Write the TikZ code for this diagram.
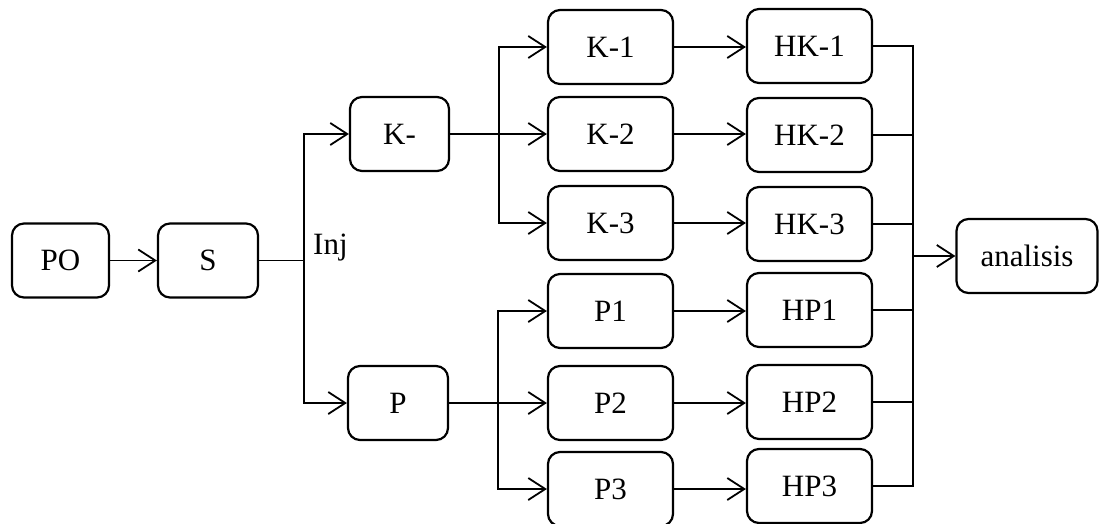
\documentclass[tikz,border=0pt]{standalone}
\usepackage{fontspec}
\setmainfont{Liberation Serif}
\usetikzlibrary{arrows.meta}
\begin{document}
\begin{tikzpicture}[x=1pt,y=-1pt,
  box/.style={draw, line width=2.2pt, rounded corners=12pt, minimum height=74pt,
    inner sep=0pt, font=\fontsize{31}{36}\selectfont},
  conn/.style={line width=1.8pt},
  arr/.style={conn, -{Straight Barb[length=17pt,width=22pt,line width=1.8pt]}}]
\fill[white] (0,0) rectangle (1099,524);
\useasboundingbox (0,0) rectangle (1099,524);
% nodes
\node[box, minimum width=97pt]  (PO) at (60.5,260.5) {PO};
\node[box, minimum width=100pt] (S)  at (208,260.5) {S};
\node[box, minimum width=99pt]  (Km) at (399.5,134) {K-};
\node[box, minimum width=100pt] (P)  at (398,403) {P};
\node[box, minimum width=125pt] (K1) at (610.5,47) {K-1};
\node[box, minimum width=125pt] (K2) at (610.5,134) {K-2};
\node[box, minimum width=125pt] (K3) at (610.5,223) {K-3};
\node[box, minimum width=125pt] (P1) at (610.5,311) {P1};
\node[box, minimum width=125pt] (P2) at (610.5,403) {P2};
\node[box, minimum width=125pt] (P3) at (610.5,489) {P3};
\node[box, minimum width=125pt] (HK1) at (809.5,46) {HK-1};
\node[box, minimum width=125pt] (HK2) at (809.5,135) {HK-2};
\node[box, minimum width=125pt] (HK3) at (809.5,224) {HK-3};
\node[box, minimum width=125pt] (HP1) at (809.5,310) {HP1};
\node[box, minimum width=125pt] (HP2) at (809.5,402) {HP2};
\node[box, minimum width=125pt] (HP3) at (809.5,486) {HP3};
\node[box, minimum width=141pt] (AN) at (1027,256) {analisis};
% junctions
\coordinate (jS) at (304,260.5);
\coordinate (jK) at (499,134);
\coordinate (jP) at (498,403);
\coordinate (jA) at (913,256);
% label
\node[anchor=base west, inner sep=0pt, font=\fontsize{31}{36}\selectfont] (inj) at (313,254) {Inj};
% connectors
\draw[arr] (PO) -- (S);
\draw[conn] (S.east) -- (jS);
\draw[arr] (jS) |- (Km.west);
\draw[arr] (jS) |- (P.west);
\draw[arr] (Km.east) -- (K2.west);
\draw[arr] (jK) |- (K1.west);
\draw[arr] (jK) |- (K3.west);
\draw[arr] (P.east) -- (P2.west);
\draw[arr] (jP) |- (P1.west);
\draw[arr] (jP) |- (P3.west);
\draw[arr] (K1) -- (HK1.west |- K1);
\draw[arr] (K2) -- (HK2.west |- K2);
\draw[arr] (K3) -- (HK3.west |- K3);
\draw[arr] (P1) -- (HP1.west |- P1);
\draw[arr] (P2) -- (HP2.west |- P2);
\draw[arr] (P3) -- (HP3.west |- P3);
\draw[conn] (HK1.east) -- (HK1.east -| jA) -- (HP3.east -| jA) -- (HP3.east);
\draw[conn] (HK2.east) -- (HK2.east -| jA);
\draw[conn] (HK3.east) -- (HK3.east -| jA);
\draw[conn] (HP1.east) -- (HP1.east -| jA);
\draw[conn] (HP2.east) -- (HP2.east -| jA);
\draw[arr] (jA) -- (AN.west);
\end{tikzpicture}
\end{document}
